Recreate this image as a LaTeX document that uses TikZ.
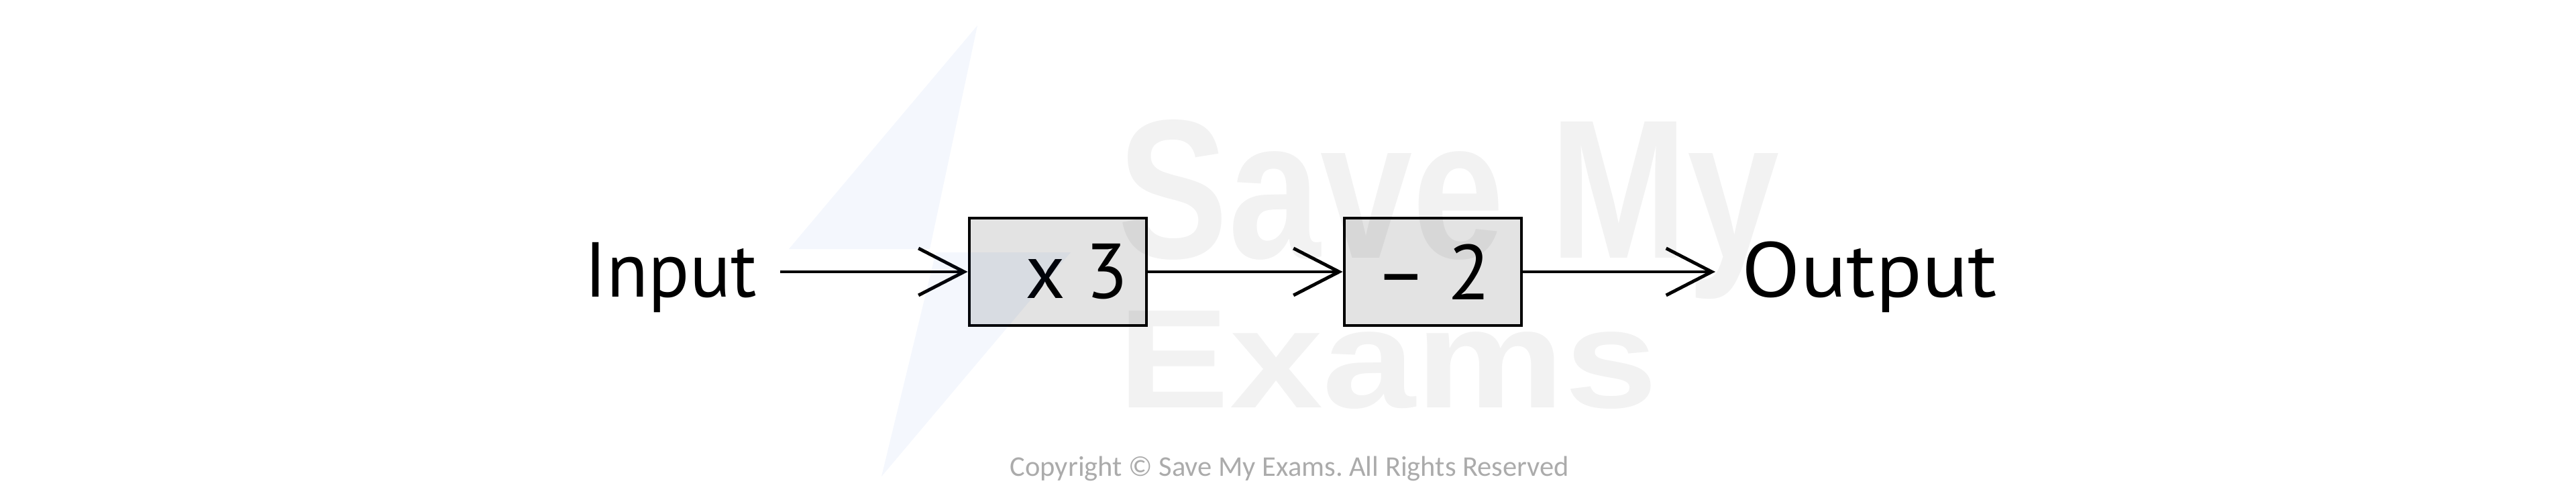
\documentclass[tikz,border=0pt]{standalone}
\usepackage{fontspec}
\setmainfont{PT Sans}
\newfontfamily\markfont{Liberation Sans}
\newfontfamily\copyfont{Carlito}
\usetikzlibrary{arrows.meta}
\definecolor{boxgray}{RGB}{227,227,227}
\definecolor{boltblue}{RGB}{30,90,220}
\definecolor{copygray}{RGB}{171,171,171}

\begin{document}
\frenchspacing
\begin{tikzpicture}[
    word/.style={inner sep=0pt, font=\fontsize{33}{36}\selectfont},
    machine/.style={draw, line width=1.4pt, fill=boxgray, minimum width=2.64cm,
      minimum height=1.6cm, inner sep=0pt, font=\fontsize{33}{36}\selectfont},
    flow/.style={line width=1.4pt, -{Straight Barb[length=0.68cm, width=0.7cm]}},
    wmark/.style={inner sep=0pt, anchor=base west, black, opacity=0.05,
      font=\markfont\bfseries}
  ]
  \useasboundingbox (0,0) rectangle (38.4,7.47);

  \node[word, anchor=base west, xscale=0.98] (input) at (8.71,3.05) {Input};
  \node[machine] (times) at (15.77,3.42) {\hspace*{0.56cm}x 3};
  \node[machine] (minus) at (21.36,3.42) {– 2};
  \node[word, anchor=base west, xscale=1.1] (output) at (25.96,3.05) {Output};

  \draw[flow, shorten <=0.34cm] (input.east |- times.west) -- (times.west);
  \draw[flow] (times) -- (minus);
  \draw[flow, shorten >=0.39cm] (minus.east) -- (minus.east -| output.west);

  % watermark
  \fill[boltblue, opacity=0.05] (14.57,7.09) -- (11.76,3.76) -- (13.86,3.76) -- cycle;
  \fill[boltblue, opacity=0.05] (13.95,3.71) -- (15.96,3.71) -- (13.14,0.37) -- cycle;
  \node[wmark, xscale=0.835, font=\markfont\bfseries\fontsize{84}{90}\selectfont]
    (savemy) at (16.66,3.63) {Save My};
  \node[wmark, yscale=0.84, font=\markfont\bfseries\fontsize{71}{76}\selectfont]
    (exams) at (16.66,1.40) {Exams};
  \node[inner sep=0pt, anchor=base west, copygray, font=\copyfont\fontsize{12.1}{14}\selectfont]
    (copyright) at (15.05,0.38) {Copyright © Save My Exams. All Rights Reserved};
\end{tikzpicture}
\end{document}
